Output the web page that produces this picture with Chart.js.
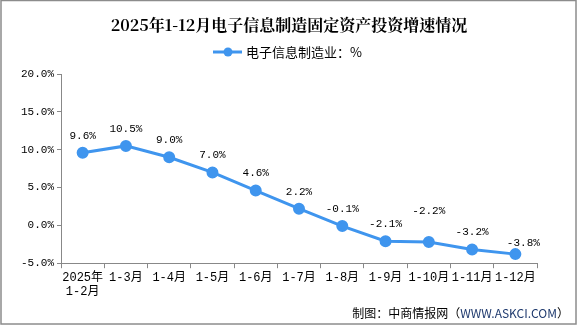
<!DOCTYPE html>
<html>
<head>
<meta charset="utf-8">
<script src="https://cdn.jsdelivr.net/npm/chart.js@4"></script>
<style>
  html, body { margin: 0; padding: 0; background: #fff; }
  canvas { display: block; }
</style>
</head>
<body>
<canvas id="c" width="585" height="327"></canvas>
<script>
// Data
const categories = [['2025年', '1-2月'], '1-3月', '1-4月', '1-5月', '1-6月', '1-7月', '1-8月', '1-9月', '1-10月', '1-11月', '1-12月'];
const growth = [9.6, 10.5, 9.0, 7.0, 4.6, 2.2, -0.1, -2.1, -2.2, -3.2, -3.8];
const seriesName = '电子信息制造业：%';
const titleText = '2025年1-12月电子信息制造固定资产投资增速情况';
const sourceLabel = '制图：中商情报网（';
const sourceUrl = 'WWW.ASKCI.COM';
const sourceEnd = '）';

const lineColor = '#3f95ee';
const monoFont = "'Liberation Mono', 'Noto Sans CJK SC', monospace";

// border, title, legend, source and value labels
const decorations = {
  id: 'decorations',
  afterDatasetsDraw(chart) {
    const ctx = chart.ctx;
    ctx.save();
    // outer frame
    ctx.strokeStyle = '#8c8c8c';
    ctx.lineWidth = 1.5;
    ctx.strokeRect(1, 0.5, 575, 323.5);

    // title
    ctx.fillStyle = '#000';
    ctx.textAlign = 'center';
    ctx.textBaseline = 'middle';
    ctx.font = "bold 16px 'Noto Serif CJK SC', 'Noto Sans CJK SC', serif";
    ctx.fillText(titleText, 289, 25);

    // legend
    ctx.strokeStyle = lineColor;
    ctx.lineWidth = 3;
    ctx.beginPath();
    ctx.moveTo(213, 52);
    ctx.lineTo(242, 52);
    ctx.stroke();
    ctx.fillStyle = lineColor;
    ctx.beginPath();
    ctx.arc(228, 52, 4.5, 0, Math.PI * 2);
    ctx.fill();
    ctx.fillStyle = '#000';
    ctx.textAlign = 'left';
    ctx.font = "13px 'Noto Sans CJK SC', sans-serif";
    ctx.fillText(seriesName, 246, 52);

    // value labels (a couple are nudged to avoid crowding, as in the original)
    const meta = chart.getDatasetMeta(0);
    ctx.textAlign = 'center';
    ctx.textBaseline = 'middle';
    ctx.font = '11px ' + monoFont;
    meta.data.forEach((pt, i) => {
      let dx = 0, dy = -17;
      if (i === 8) dy = -31;
      if (i === 10) { dx = 8; dy = -11; }
      ctx.fillText(growth[i].toFixed(1) + '%', pt.x + dx, pt.y + dy);
    });

    // source
    ctx.textBaseline = 'middle';
    ctx.textAlign = 'right';
    ctx.font = "12px 'Noto Sans CJK SC', sans-serif";
    let x = 569;
    ctx.fillStyle = '#000';
    ctx.fillText(sourceEnd, x, 313);
    x -= ctx.measureText(sourceEnd).width;
    ctx.fillStyle = '#1f3a6e';
    ctx.fillText(sourceUrl, x, 313);
    x -= ctx.measureText(sourceUrl).width;
    ctx.fillStyle = '#000';
    ctx.fillText(sourceLabel, x, 313);
    ctx.restore();
  }
};

new Chart(document.getElementById('c'), {
  type: 'line',
  data: {
    labels: categories,
    datasets: [{
      label: seriesName,
      data: growth,
      borderColor: lineColor,
      backgroundColor: lineColor,
      borderWidth: 3,
      pointRadius: 4.5,
      pointHoverRadius: 4.5,
      tension: 0
    }]
  },
  options: {
    responsive: false,
    animation: false,
    layout: { padding: { top: 74, left: 18, right: 48, bottom: 26 } },
    plugins: {
      legend: { display: false },
      title: { display: false },
      tooltip: { enabled: false }
    },
    scales: {
      x: {
        offset: true,
        grid: {
          offset: true,
          display: true,
          drawOnChartArea: false,
          drawTicks: true,
          tickLength: 5,
          color: '#888'
        },
        border: { color: '#888', width: 1 },
        ticks: {
          color: '#000',
          font: { size: 12, family: monoFont },
          maxRotation: 0,
          autoSkip: false,
          padding: 2
        }
      },
      y: {
        min: -5,
        max: 20,
        grid: {
          display: true,
          drawOnChartArea: false,
          drawTicks: true,
          tickLength: 4,
          color: '#888'
        },
        border: { color: '#888', width: 1 },
        ticks: {
          stepSize: 5,
          color: '#000',
          font: { size: 11, family: monoFont },
          padding: 3,
          callback: v => v.toFixed(1) + '%'
        }
      }
    }
  },
  plugins: [decorations]
});
</script>
</body>
</html>
